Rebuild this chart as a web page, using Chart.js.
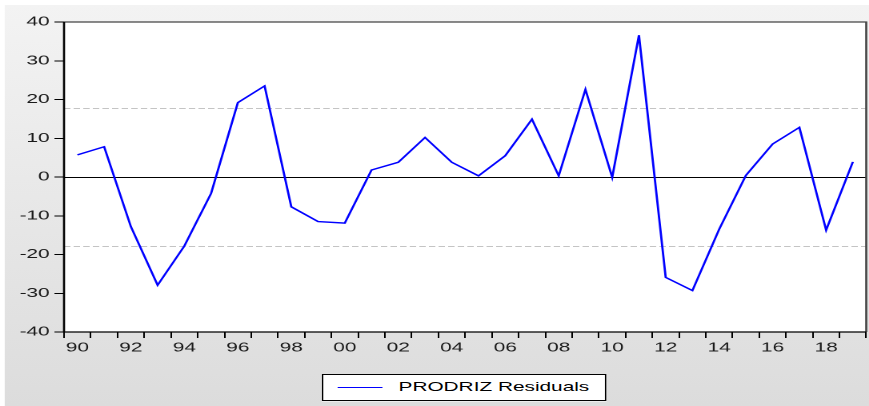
<!DOCTYPE html>
<html>
<head>
<meta charset="utf-8">
<script src="https://cdn.jsdelivr.net/npm/chart.js@4/dist/chart.umd.min.js"></script>
<style>
  html,body{margin:0;padding:0;background:#ffffff;width:869px;height:406px;overflow:hidden;}
  #wrap{position:absolute;left:0;top:0;width:543px;height:406px;transform:scaleX(1.6004);transform-origin:0 0;}
  #panel{position:absolute;left:3px;top:5px;right:0;bottom:0;background:linear-gradient(#f3f3f3,#dcdcdc);}
  #c{position:absolute;left:0;top:0;}
  #legend{position:absolute;left:201px;top:374px;width:176px;height:25px;border:1px solid #000;background:#fff;
          font-family:"Liberation Sans",Arial,sans-serif;font-size:13px;color:#000;}
  #legend .sw{position:absolute;left:9px;top:12px;width:28px;height:0;border-top:1.5px solid #0000ff;}
  #legend .tx{position:absolute;left:47px;top:4px;white-space:nowrap;}
</style>
</head>
<body>
<div id="wrap">
  <div id="panel"></div>
  <canvas id="c" width="543" height="406"></canvas>
  <div id="legend"><div class="sw"></div><div class="tx">PRODRIZ Residuals</div></div>
</div>
<script>
// ---- data ----
const years = [1990,1991,1992,1993,1994,1995,1996,1997,1998,1999,
               2000,2001,2002,2003,2004,2005,2006,2007,2008,2009,
               2010,2011,2012,2013,2014,2015,2016,2017,2018,2019];
const residuals = [5.7, 7.8, -12.8, -27.9, -17.8, -4.2, 19.2, 23.5, -7.7, -11.5,
                   -11.9, 1.8, 3.8, 10.2, 3.8, 0.3, 5.5, 14.9, 0.3, 22.6,
                   -0.1, 36.6, -25.9, -29.3, -13.5, 0.4, 8.5, 12.8, -13.7, 3.9];
const stdBands = [17.8, -17.8];
const seriesName = 'PRODRIZ Residuals';

const bgPlugin = {
  id: 'bg',
  beforeDraw(chart) {
    const {ctx, chartArea: a} = chart;
    ctx.save();
    ctx.fillStyle = '#ffffff';
    ctx.fillRect(a.left, a.top, a.right - a.left, a.bottom - a.top);
    ctx.restore();
  },
  beforeDatasetsDraw(chart) {
    const {ctx, chartArea: a} = chart;
    const ys = chart.scales.y;
    ctx.save();
    ctx.strokeStyle = '#c4c4c4';
    ctx.lineWidth = 1;
    ctx.setLineDash([4, 2]);
    stdBands.forEach(v => {
      const py = Math.round(ys.getPixelForValue(v)) + 0.5;
      ctx.beginPath(); ctx.moveTo(a.left, py); ctx.lineTo(a.right, py); ctx.stroke();
    });
    ctx.setLineDash([]);
    ctx.strokeStyle = '#000000';
    const z = Math.round(ys.getPixelForValue(0)) + 0.5;
    ctx.beginPath(); ctx.moveTo(a.left, z); ctx.lineTo(a.right, z); ctx.stroke();
    ctx.restore();
  },
  afterDraw(chart) {
    const {ctx, chartArea: a} = chart;
    ctx.save();
    ctx.lineWidth = 1.3;
    ctx.strokeStyle = '#444444';
    ctx.beginPath(); ctx.moveTo(a.left, a.top); ctx.lineTo(a.right, a.top); ctx.lineTo(a.right, a.bottom); ctx.stroke();
    ctx.strokeStyle = '#000000';
    ctx.beginPath(); ctx.moveTo(a.left, a.top); ctx.lineTo(a.left, a.bottom); ctx.lineTo(a.right, a.bottom); ctx.stroke();
    ctx.restore();
  }
};

new Chart(document.getElementById('c'), {
  type: 'line',
  data: {
    labels: years.map(String),
    datasets: [{
      label: seriesName,
      data: residuals,
      borderColor: '#0000ff',
      borderWidth: 1.4,
      pointRadius: 0,
      tension: 0,
      fill: false
    }]
  },
  options: {
    responsive: false,
    devicePixelRatio: 2,
    animation: false,
    layout: { padding: { top: 22, right: 1.75, left: 0, bottom: 0 } },
    plugins: { legend: { display: false }, tooltip: { enabled: false } },
    scales: {
      x: {
        type: 'category',
        offset: true,
        grid: { offset: true, drawOnChartArea: false, tickColor: '#000', tickLength: 6, tickWidth: 1 },
        border: { display: false },
        ticks: {
          autoSkip: false, maxRotation: 0, minRotation: 0, padding: 2,
          color: '#1a1a1a',
          font: { family: '"Liberation Sans", Arial, sans-serif', size: 13 },
          callback: (v, i) => (years[i] % 2 === 0 ? String(years[i]).slice(2) : '')
        },
        afterFit: s => { s.height = 74; }
      },
      y: {
        min: -40, max: 40,
        grid: { drawOnChartArea: false, tickColor: '#000', tickLength: 6, tickWidth: 1 },
        border: { display: false },
        ticks: {
          stepSize: 10, padding: 3,
          color: '#1a1a1a',
          font: { family: '"Liberation Sans", Arial, sans-serif', size: 13 }
        },
        afterFit: s => { s.width = 40; }
      }
    }
  },
  plugins: [bgPlugin]
});
</script>
</body>
</html>
